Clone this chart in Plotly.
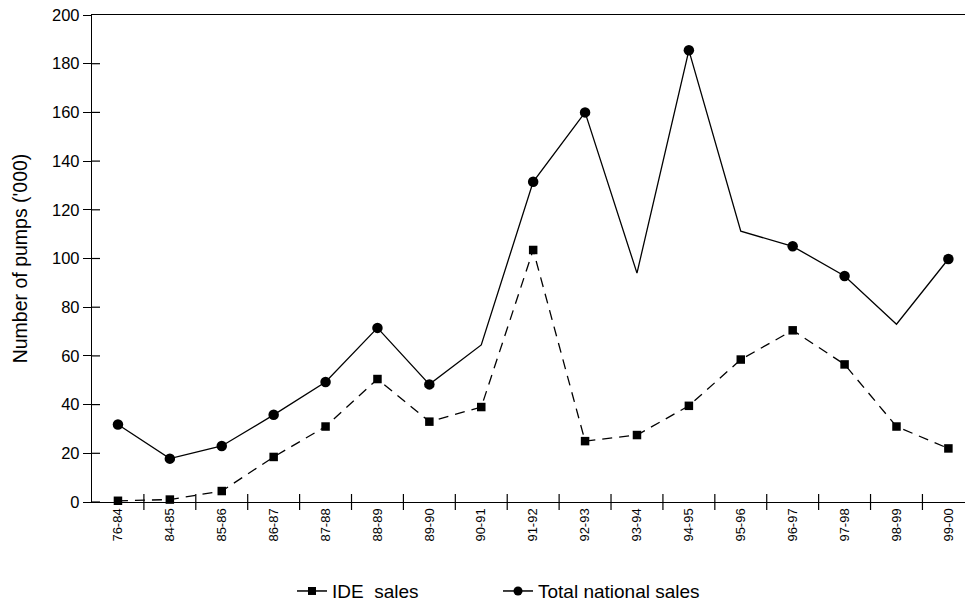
import plotly.graph_objects as go

years = ["76-84", "84-85", "85-86", "86-87", "87-88", "88-89", "89-90", "90-91", "91-92",
         "92-93", "93-94", "94-95", "95-96", "96-97", "97-98", "98-99", "99-00"]
ide_sales = [0.5, 1, 4.5, 18.5, 31, 50.5, 33, 39, 103.5, 25, 27.5, 39.5, 58.5, 70.5, 56.5, 31, 22]
total_sales = [31.8, 17.8, 23, 35.8, 49.3, 71.5, 48.3, 64.5, 131.5, 160, 94, 185.5, 111.2, 105,
               92.8, 73, 99.8]
total_has_marker = [True, True, True, True, True, True, True, False, True,
                    True, False, True, False, True, True, False, True]
y_ticks = [0, 20, 40, 60, 80, 100, 120, 140, 160, 180, 200]

FONT = "Liberation Sans, Arial, sans-serif"
W, H = 965, 602

fig = go.Figure()
fig.add_trace(go.Scatter(
    x=years, y=total_sales, mode="lines+markers",
    line=dict(color="black", width=1.3),
    marker=dict(symbol="circle", color="black", opacity=1,
                line=dict(width=0, color="black"),
                size=[10.5 if m else 0 for m in total_has_marker]),
    showlegend=False, cliponaxis=False))
fig.add_trace(go.Scatter(
    x=years, y=ide_sales, mode="lines+markers",
    line=dict(color="black", width=1.3, dash="10px,7px"),
    marker=dict(symbol="square", color="black", size=8.5, opacity=1,
                line=dict(width=0, color="black")),
    showlegend=False, cliponaxis=False))
# legend entries (solid line samples as in the original)
fig.add_trace(go.Scatter(
    x=[None], y=[None], mode="lines+markers", name="IDE  sales",
    line=dict(color="black", width=1.5),
    marker=dict(symbol="square", color="black", size=8, line=dict(width=0))))
fig.add_trace(go.Scatter(
    x=[None], y=[None], mode="lines+markers", name="Total national sales",
    line=dict(color="black", width=1.5),
    marker=dict(symbol="circle", color="black", size=9, line=dict(width=0))))

# crossing tick marks (inward halves on y, full crossing ticks between categories on x)
shapes = []
for v in y_ticks[:-1]:
    shapes.append(dict(type="line", xref="paper", xsizemode="pixel", xanchor=0,
                       x0=0, x1=8, yref="y", y0=v, y1=v,
                       line=dict(color="black", width=1.2)))
for i in range(1, len(years)):
    shapes.append(dict(type="line", xref="x", x0=i - 0.5, x1=i - 0.5,
                       yref="paper", ysizemode="pixel", yanchor=0, y0=-8, y1=8,
                       line=dict(color="black", width=1.2)))

fig.update_layout(
    width=W, height=H,
    margin=dict(l=92, r=0, t=15, b=100, autoexpand=False),
    paper_bgcolor="white", plot_bgcolor="white",
    font=dict(family=FONT, color="black"),
    shapes=shapes,
    hovermode=False,
    xaxis=dict(type="category", categoryorder="array", categoryarray=years,
               range=[-0.5, 16.32], tickson="boundaries", ticks="outside", ticklen=8,
               tickcolor="rgba(0,0,0,0)", tickwidth=1, automargin=False,
               showline=True, linecolor="black", linewidth=1.3, mirror=True,
               showgrid=False, zeroline=False,
               tickangle=-90, tickfont=dict(size=13, family=FONT)),
    yaxis=dict(range=[0, 200], tickvals=y_ticks, ticks="outside", ticklen=8,
               tickcolor="black", tickwidth=1.2, showline=True, linecolor="black",
               linewidth=1.3, showgrid=False, zeroline=False, automargin=False,
               ticklabeloverflow="allow",
               tickfont=dict(size=16.5, family=FONT),
               title=dict(text="Number of pumps ('000)", font=dict(size=19.5, family=FONT),
                          standoff=19)),
    legend=dict(orientation="h", x=0.2291, xanchor="left", y=-0.183, yanchor="middle",
                font=dict(size=19, family=FONT), entrywidth=161, entrywidthmode="pixels",
                tracegroupgap=0, bgcolor="rgba(0,0,0,0)"),
)
# remove the default 8px page margin so the 965x602 figure fills the window exactly
fig.write_html("out.html", config={"displayModeBar": False},
               post_script="document.body.style.margin='0';document.body.style.overflow='hidden';")
